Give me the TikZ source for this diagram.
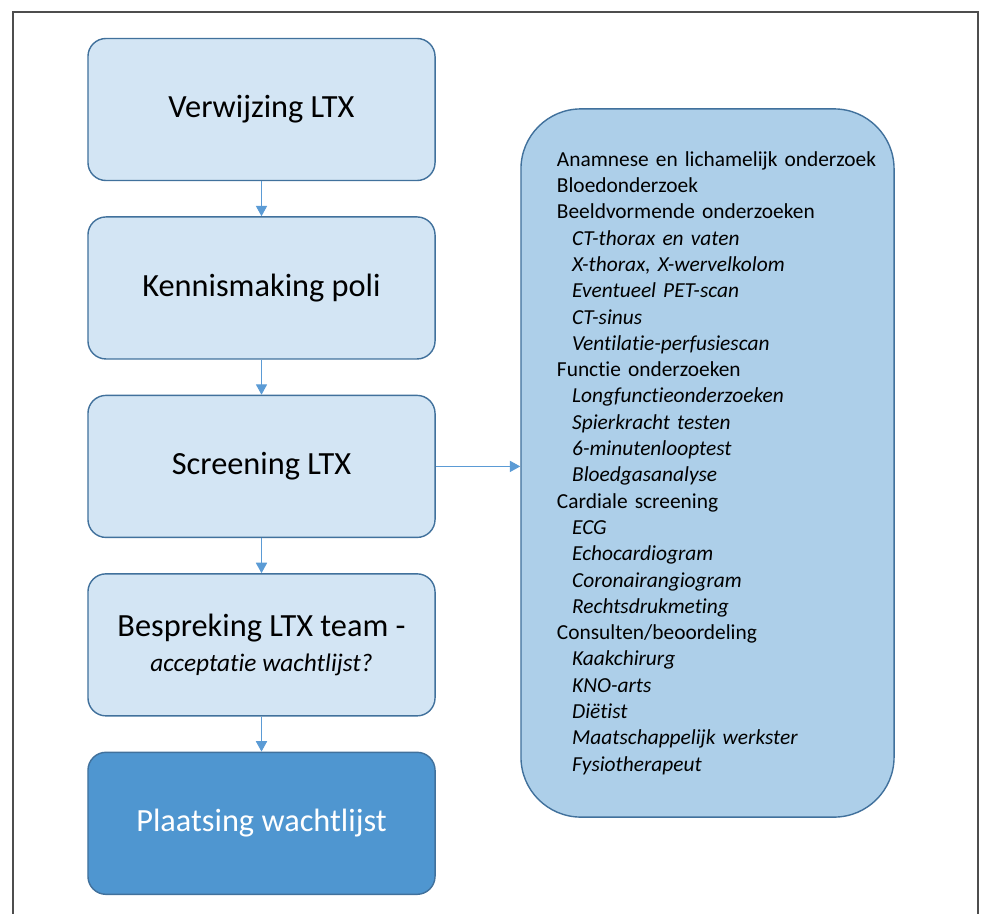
\documentclass[tikz,border=0pt]{standalone}
\usepackage{fontspec}
\setmainfont[RawFeature={-liga;-clig;-dlig;-rlig;-calt}]{Carlito}
\usepackage{tikz}
\usetikzlibrary{arrows.meta,positioning}

\definecolor{boxlight}{HTML}{D3E5F4}
\definecolor{boxmid}{HTML}{ADCFE9}
\definecolor{boxdark}{HTML}{4F96D0}
\definecolor{boxedge}{HTML}{41719C}
\definecolor{arrowblue}{HTML}{5B9BD5}
\definecolor{framegray}{HTML}{4D4D4D}

% one line in the list, main item or italic sub item
\newcommand{\chkmain}[1]{\hspace*{0.9cm}#1}
\newcommand{\chksub}[1]{\hspace*{1.28cm}\textit{#1}}

\begin{document}
\begin{tikzpicture}[
  x=0.025cm, y=-0.025cm,
  stepbox/.style={draw=boxedge, line width=1pt, fill=boxlight, rounded corners=0.45cm,
    minimum width=8.675cm, minimum height=3.55cm, align=center,
    font=\fontsize{23}{27}\selectfont},
  listbox/.style={draw=boxedge, line width=1pt, fill=boxmid, rounded corners=1.5cm,
    minimum width=9.325cm, minimum height=17.7cm, text width=9.325cm, inner xsep=0pt,
    align=left, font=\fontsize{15.2}{18.7}\selectfont},
  flow/.style={-{Triangle[length=2.6mm,width=2.8mm]}, line width=0.75pt, draw=arrowblue, fill=arrowblue}
]
  \useasboundingbox (0,0) rectangle (984,913);
  \draw[framegray, line width=1.4pt] (13,930) -- (13,12) -- (978,12) -- (978,930);

  \node[stepbox] (referral) at (261.5,109.5) {Verwijzing LTX};
  \node[stepbox, below=0.875cm of referral] (intake) {Kennismaking poli};
  \node[stepbox, below=0.875cm of intake] (screening) {Screening LTX};
  \node[stepbox, below=0.875cm of screening] (meeting)
    {Bespreking LTX team -\\[-2pt]{\fontsize{18}{22}\selectfont\itshape acceptatie wachtlijst?}};
  \node[stepbox, below=0.875cm of meeting, fill=boxdark, text=white] (waitlist) {Plaatsing wachtlijst};

  \node[listbox] (checks) at (707.5,463) {%
    \chkmain{Anamnese en lichamelijk onderzoek}\\
    \chkmain{Bloedonderzoek}\\
    \chkmain{Beeldvormende onderzoeken}\\
    \chksub{CT-thorax en vaten}\\
    \chksub{X-thorax, X-wervelkolom}\\
    \chksub{Eventueel PET-scan}\\
    \chksub{CT-sinus}\\
    \chksub{Ventilatie-perfusiescan}\\
    \chkmain{Functie onderzoeken}\\
    \chksub{Longfunctieonderzoeken}\\
    \chksub{Spierkracht testen}\\
    \chksub{6-minutenlooptest}\\
    \chksub{Bloedgasanalyse}\\
    \chkmain{Cardiale screening}\\
    \chksub{ECG}\\
    \chksub{Echocardiogram}\\
    \chksub{Coronairangiogram}\\
    \chksub{Rechtsdrukmeting}\\
    \chkmain{Consulten/beoordeling}\\
    \chksub{Kaakchirurg}\\
    \chksub{KNO-arts}\\
    \chksub{Diëtist}\\
    \chksub{Maatschappelijk werkster}\\
    \chksub{Fysiotherapeut}};

  \draw[flow] (referral) -- (intake);
  \draw[flow] (intake) -- (screening);
  \draw[flow] (screening) -- (meeting);
  \draw[flow] (meeting) -- (waitlist);
  \draw[flow] (screening.east) -- (checks.west |- screening.east);
\end{tikzpicture}
\end{document}
